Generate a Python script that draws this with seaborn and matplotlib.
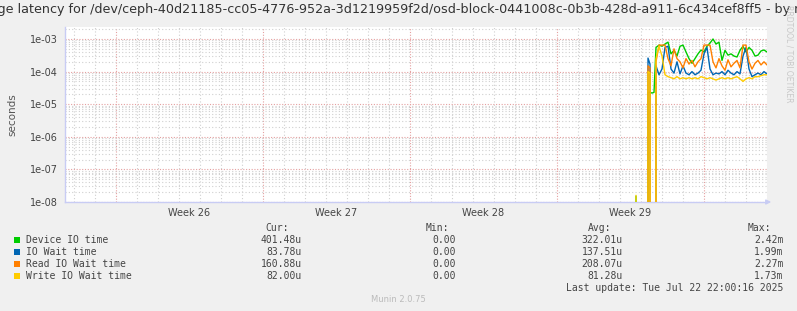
import numpy as np
import pandas as pd
import matplotlib
matplotlib.use("Agg")
import matplotlib.pyplot as plt
import seaborn as sns
from matplotlib.ticker import FixedLocator, LogLocator, NullFormatter, FuncFormatter
from matplotlib.patches import Rectangle

# ---- data (days relative to start of week 30, i.e. Mon Jul 21) ----
days = [-3.238, -3.095, -2.952, -2.810, -2.667, -2.571, -2.476, -2.381, -2.286, -2.143,
        -2.000, -1.857, -1.714, -1.571, -1.429, -1.286, -1.143, -1.000, -0.857, -0.714,
        -0.571, -0.429, -0.286, -0.143, 0.000, 0.143, 0.286, 0.429, 0.571, 0.714,
        0.857, 1.000, 1.143, 1.286, 1.429, 1.571, 1.714, 1.857, 2.000, 2.143,
        2.286, 2.429, 2.571, 2.714, 2.857, 3.000]

device_io = [1.5e-8, 0, 0, 0, 2.3e-5, 2.3e-5, 2.2e-5, 2.3e-5, 5.5e-4, 6.5e-4,
             6.0e-4, 7.0e-4, 8.0e-4, 3.5e-4, 4.5e-4, 3.0e-4, 6.0e-4, 6.5e-4, 4.0e-4, 2.5e-4,
             1.8e-4, 2.5e-4, 3.5e-4, 4.6e-4, 4.0e-4, 6.0e-4, 7.5e-4, 1.0e-3, 7.0e-4, 8.0e-4,
             2.2e-4, 4.5e-4, 3.2e-4, 3.5e-4, 3.0e-4, 2.8e-4, 4.5e-4, 6.0e-4, 4.0e-4, 5.5e-4,
             4.5e-4, 3.0e-4, 3.2e-4, 4.3e-4, 4.6e-4, 4.0e-4]

io_wait = [0, 0, 0, 0, 2.6e-4, 1.7e-4, 0, 0, 1.5e-4, 8.0e-5,
           1.2e-4, 5.5e-4, 6.0e-4, 1.2e-4, 9.0e-5, 2.0e-4, 8.5e-5, 1.5e-4, 9.0e-5, 8.0e-5,
           1.0e-4, 8.0e-5, 9.0e-5, 1.1e-4, 3.5e-4, 5.5e-4, 1.2e-4, 8.0e-5, 9.0e-5, 8.5e-5,
           1.0e-4, 8.0e-5, 1.1e-4, 9.0e-5, 8.0e-5, 1.0e-4, 8.5e-5, 3.0e-4, 5.5e-4, 1.2e-4,
           7.0e-5, 8.0e-5, 9.0e-5, 8.0e-5, 1.0e-4, 8.4e-5]

read_wait = [0, 0, 0, 0, 1.5e-4, 1.3e-4, 0, 0, 2.0e-4, 6.5e-4,
             6.5e-4, 6.5e-4, 2.5e-4, 1.5e-4, 5.0e-4, 2.5e-4, 2.0e-4, 1.3e-4, 2.5e-4, 1.7e-4,
             2.2e-4, 1.4e-4, 2.0e-4, 2.5e-4, 6.5e-4, 6.5e-4, 6.5e-4, 2.0e-4, 1.3e-4, 2.5e-4,
             1.5e-4, 1.1e-4, 2.3e-4, 1.4e-4, 1.8e-4, 2.2e-4, 1.3e-4, 6.5e-4, 6.5e-4, 2.0e-4,
             1.2e-4, 1.8e-4, 2.2e-4, 1.6e-4, 2.0e-4, 1.6e-4]

write_wait = [1.6e-8, 0, 0, 0, 1.0e-4, 9.0e-5, 0, 0, 2.5e-4, 6.0e-4,
              3.0e-4, 8.0e-5, 7.0e-5, 6.5e-5, 6.0e-5, 7.0e-5, 6.0e-5, 6.5e-5, 6.0e-5, 6.5e-5,
              6.0e-5, 6.5e-5, 6.0e-5, 7.0e-5, 6.5e-5, 6.0e-5, 6.5e-5, 6.0e-5, 5.5e-5, 6.0e-5,
              6.5e-5, 6.0e-5, 6.5e-5, 6.0e-5, 6.5e-5, 7.0e-5, 6.0e-5, 5.0e-5, 6.0e-5, 6.5e-5,
              6.0e-5, 7.0e-5, 7.0e-5, 7.5e-5, 8.0e-5, 8.0e-5]

series_names = ["Device IO time", "IO Wait time", "Read IO Wait time", "Write IO Wait time"]
colors = ["#00CC00", "#0066B3", "#FF8000", "#FFCC00"]
cur_vals = ["401.48u", "83.78u", "160.88u", "82.00u"]
min_vals = ["0.00", "0.00", "0.00", "0.00"]
avg_vals = ["322.01u", "137.51u", "208.07u", "81.28u"]
max_vals = ["2.42m", "1.99m", "2.27m", "1.73m"]
week_labels = ["Week 26", "Week 27", "Week 28", "Week 29"]
week_starts = [-28, -21, -14, -7, 0]

title = ("Average latency for /dev/ceph-40d21185-cc05-4776-952a-3d1219959f2d/"
         "osd-block-0441008c-0b3b-428d-a911-6c434cef8ff5 - by month")

# ---- figure ----
sns.set_style("white")
plt.rcParams["font.family"] = ["DejaVu Sans"]
W, H = 797, 311
fig = plt.figure(figsize=(W / 100, H / 100), dpi=100, facecolor="#F0F0F0")
L, R, T, B = 65, 767, 27, 202
ax = fig.add_axes([L / W, 1 - B / H, (R - L) / W, (B - T) / H])
ax.set_facecolor("white")

frames = []
for name, vals in zip(series_names, [device_io, io_wait, read_wait, write_wait]):
    frames.append(pd.DataFrame({"day": days, "value": vals, "series": name}))
df = pd.concat(frames, ignore_index=True)

sns.lineplot(data=df, x="day", y="value", hue="series", hue_order=series_names,
             palette=colors, estimator=None, sort=False, legend=False,
             linewidth=1.0, ax=ax, zorder=5)

ax.set_yscale("log", nonpositive="clip")
ax.set_ylim(1e-8, 10 ** (-8 + (B - T) / 32.6))
ax.set_xlim(-30.43, 3.0)
ax.set_xlabel("")

# grid
ax.yaxis.set_major_locator(LogLocator(base=10, numticks=20))
ax.yaxis.set_minor_locator(LogLocator(base=10, subs=np.arange(2, 10), numticks=20))
ax.yaxis.set_minor_formatter(NullFormatter())
ax.yaxis.set_major_formatter(FuncFormatter(lambda v, p: "1e-%02d" % round(-np.log10(v))))
ax.xaxis.set_major_locator(FixedLocator(week_starts))
ax.xaxis.set_minor_locator(FixedLocator(np.arange(-30, 4, 1)))
ax.xaxis.set_major_formatter(NullFormatter())

ax.grid(which="minor", axis="both", color="#D0D0D0", linestyle=(0, (1, 2)), linewidth=0.8, zorder=1)
ax.grid(which="major", axis="both", color="#E5A0A0", linestyle=(0, (1, 1.5)), linewidth=0.8, zorder=2)

ax.tick_params(axis="y", which="major", length=3, color="#E5A0A0", labelsize=7, labelcolor="#444444", pad=2)
ax.tick_params(axis="y", which="minor", length=2, color="#D0D0D0")
ax.tick_params(axis="x", which="major", length=3, color="#E5A0A0", labelsize=7)
ax.tick_params(axis="x", which="minor", length=2, color="#D0D0D0")

for s in ["top", "right"]:
    ax.spines[s].set_visible(False)
for s in ["left", "bottom"]:
    ax.spines[s].set_color("#C8CCF4")
    ax.spines[s].set_linewidth(1.0)

for i, lab in enumerate(week_labels):
    ax.text((week_starts[i] + week_starts[i + 1]) / 2, -0.035, lab, transform=ax.get_xaxis_transform(),
            ha="center", va="top", fontsize=7, color="#444444")

ax.annotate("", xy=(R + 7, H - B), xytext=(R - 2, H - B), xycoords="figure pixels",
            arrowprops=dict(arrowstyle="-|>", color="#C8CCF4", lw=1, mutation_scale=7))

ax.set_ylabel("seconds", fontsize=7.5, color="#555555")
ax.yaxis.set_label_coords(-0.068, 0.5)

# title
fig.text(0.5, 1 - 10 / H, title, ha="center", va="center", fontsize=9.2, color="#333333")
fig.text(789 / W, 1 - 5 / H, "RRDTOOL / TOBI OETIKER", rotation=270, ha="center", va="top",
         fontsize=5.5, color="#C8C8C8")

# legend
mono = "DejaVu Sans Mono"
fs = 7
tc = "#444444"
def fy(y):
    return 1 - y / H

fig.text(265.7 / W, fy(228), "Cur:", family=mono, fontsize=fs, color=tc, va="center")
fig.text(426 / W, fy(228), "Min:", family=mono, fontsize=fs, color=tc, va="center")
fig.text(588 / W, fy(228), "Avg:", family=mono, fontsize=fs, color=tc, va="center")
fig.text(748 / W, fy(228), "Max:", family=mono, fontsize=fs, color=tc, va="center")
rows = [240, 252, 264, 276]
for i, name in enumerate(series_names):
    y = rows[i]
    fig.patches.append(Rectangle((14 / W, fy(y + 3)), 6 / W, 6 / H, transform=fig.transFigure,
                                 facecolor=colors[i], edgecolor="none"))
    fig.text(26.5 / W, fy(y), name, family=mono, fontsize=fs, color=tc, va="center")
    fig.text(301.5 / W, fy(y), cur_vals[i], family=mono, fontsize=fs, color=tc, va="center", ha="right")
    fig.text(456 / W, fy(y), min_vals[i], family=mono, fontsize=fs, color=tc, va="center", ha="right")
    fig.text(622.5 / W, fy(y), avg_vals[i], family=mono, fontsize=fs, color=tc, va="center", ha="right")
    fig.text(783.5 / W, fy(y), max_vals[i], family=mono, fontsize=fs, color=tc, va="center", ha="right")

fig.text(783.5 / W, fy(288), "Last update: Tue Jul 22 22:00:16 2025", family=mono, fontsize=fs,
         color=tc, va="center", ha="right")
fig.text(398 / W, fy(299.5), "Munin 2.0.75", fontsize=6, color="#BBBBBB", va="center", ha="center")

fig.savefig("out.png", dpi=100, facecolor=fig.get_facecolor())
